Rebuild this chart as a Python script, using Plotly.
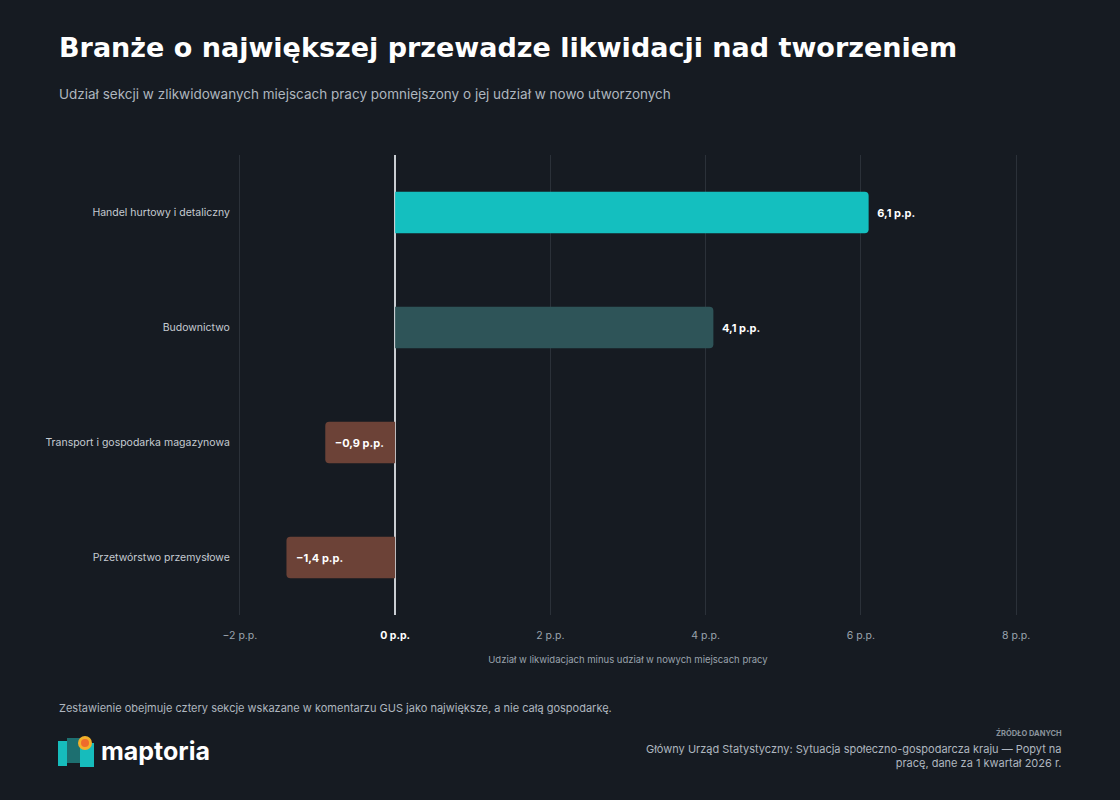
import plotly.graph_objects as go

# dane
sekcje = ["Handel hurtowy i detaliczny", "Budownictwo",
          "Transport i gospodarka magazynowa", "Przetwórstwo przemysłowe"]
roznica_pp = [6.1, 4.1, -0.9, -1.4]
kolory = ["#14bfbf", "#2e5458", "#6c4237", "#6c4237"]
etykiety = ["6,1 p.p.", "4,1 p.p.", "−0,9 p.p.", "−1,4 p.p."]
tick_vals = [-2, 0, 2, 4, 6, 8]
tick_text = ["−2 p.p.", "<b><span style='color:#ffffff'>0 p.p.</span></b>",
             "2 p.p.", "4 p.p.", "6 p.p.", "8 p.p."]

W, H = 1120, 800
L, R, T, B = 236, 100, 155, 185
FONT = "Inter"
BG = "#161b22"


def px_x(x):
    return (x - L) / (W - L - R)


def px_y(y):
    return (H - B - y) / (H - T - B)


fig = go.Figure()
fig.add_trace(go.Bar(
    y=sekcje, x=roznica_pp, orientation="h",
    marker=dict(color=kolory, line=dict(width=0), cornerradius=4),
    text=etykiety,
    texttemplate=["\u2002%{text}", "\u2002%{text}", "\u2002%{text}", "\u2002%{text}"],
    textposition=["outside", "outside", "inside", "inside"],
    insidetextanchor="end",
    constraintext="none",
    textfont=dict(family=FONT, size=11, color="#ffffff", weight="bold"),
    cliponaxis=False,
    hoverinfo="skip",
))

ann = [
    dict(text="<b>Branże o największej przewadze likwidacji nad tworzeniem</b>",
         x=px_x(57), y=px_y(47), xanchor="left", yanchor="middle",
         font=dict(family="DejaVu Sans", size=27, color="#ffffff")),
    dict(text="Udział sekcji w zlikwidowanych miejscach pracy pomniejszony o jej udział w nowo utworzonych",
         x=px_x(57), y=px_y(94), xanchor="left", yanchor="middle",
         font=dict(family=FONT, size=13.5, color="#aeb6bf")),
    dict(text="Zestawienie obejmuje cztery sekcje wskazane w komentarzu GUS jako największe, a nie całą gospodarkę.",
         x=px_x(57), y=px_y(708), xanchor="left", yanchor="middle",
         font=dict(family=FONT, size=11, color="#aeb6bf")),
    dict(text="<b>ŹRÓDŁO DANYCH</b>",
         x=px_x(1064), y=px_y(733), xanchor="right", yanchor="middle",
         font=dict(family=FONT, size=7.5, color="#8a939c")),
    dict(text="Główny Urząd Statystyczny: Sytuacja społeczno-gospodarcza kraju — Popyt na<br>pracę, dane za 1 kwartał 2026 r.",
         x=px_x(1064), y=px_y(756), xanchor="right", yanchor="middle", align="right",
         font=dict(family=FONT, size=11, color="#aeb6bf")),
    dict(text="<b>maptoria</b>",
         x=px_x(99), y=px_y(751), xanchor="left", yanchor="middle",
         font=dict(family=FONT, size=25, color="#ffffff")),
]
for a in ann:
    a.update(xref="paper", yref="paper", showarrow=False)

# logo maptoria (prosty rysunek)
shapes = [
    dict(type="rect", x0=px_x(58), x1=px_x(67), y0=px_y(766), y1=px_y(741),
         fillcolor="#16bcbc", line=dict(width=0)),
    dict(type="rect", x0=px_x(67), x1=px_x(80), y0=px_y(763), y1=px_y(738),
         fillcolor="#1d6f70", line=dict(width=0)),
    dict(type="rect", x0=px_x(80), x1=px_x(94), y0=px_y(767), y1=px_y(743),
         fillcolor="#16bcbc", line=dict(width=0)),
    dict(type="circle", x0=px_x(78), x1=px_x(92), y0=px_y(750), y1=px_y(736),
         fillcolor="#f2b02a", line=dict(width=0)),
    dict(type="circle", x0=px_x(81), x1=px_x(89), y0=px_y(747), y1=px_y(739),
         fillcolor="#ee6a2c", line=dict(width=0)),
]
for s in shapes:
    s.update(xref="paper", yref="paper", layer="above")

fig.update_layout(
    width=W, height=H,
    margin=dict(l=L, r=R, t=T, b=B, pad=0),
    paper_bgcolor=BG, plot_bgcolor=BG,
    font=dict(family=FONT, color="#c5cbd2"),
    showlegend=False,
    bargap=0.64,
    annotations=ann,
    shapes=shapes,
    xaxis=dict(
        range=[-2.05, 8.05], tickvals=tick_vals, ticktext=tick_text,
        showgrid=True, gridcolor="#2b3139", gridwidth=1,
        zeroline=True, zerolinecolor="#c9cdd2", zerolinewidth=1.5,
        showline=False, ticks="outside", ticklen=10, tickcolor="rgba(0,0,0,0)",
        tickfont=dict(family=FONT, size=10.5, color="#9aa3ad"),
        title=dict(text="Udział w likwidacjach minus udział w nowych miejscach pracy",
                   font=dict(family=FONT, size=9.5, color="#9aa3ad"), standoff=15),
        fixedrange=True,
    ),
    yaxis=dict(
        categoryorder="array", categoryarray=sekcje[::-1],
        showgrid=False, showline=False, zeroline=False,
        ticks="outside", ticklen=3, tickcolor="rgba(0,0,0,0)",
        tickfont=dict(family=FONT, size=10.5, color="#c5cbd2"),
        fixedrange=True,
    ),
)

fig.write_html("out.html", config={"displayModeBar": False},
               post_script="document.body.style.margin='0';")
